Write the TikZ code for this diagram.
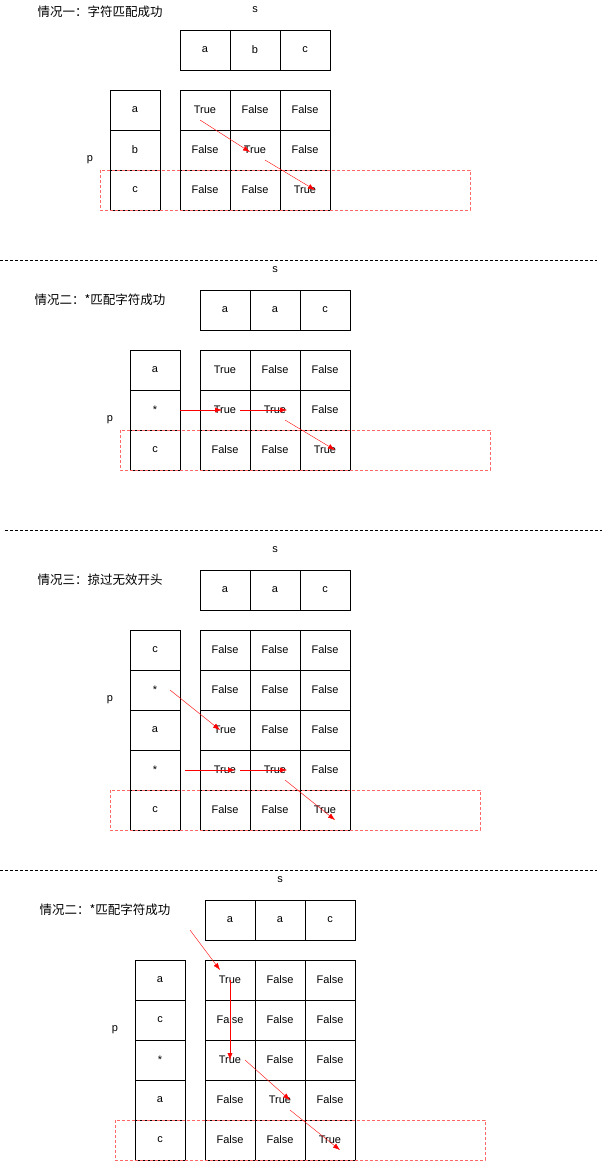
\documentclass[tikz,border=0pt]{standalone}
\usepackage{fontspec}
\setmainfont{Liberation Sans}
\newfontfamily\cjk{Noto Sans CJK SC}
\usetikzlibrary{calc,arrows.meta}
\begin{document}
\begin{tikzpicture}[x=1pt,y=-1pt,
        every node/.style={font=\fontsize{11}{13}\selectfont},
        cell/.style={rectangle, draw, inner sep=0pt, minimum width=50pt, minimum height=40pt},
        title/.style={font=\fontsize{12.5}{15}\selectfont\cjk},
        zone/.style={draw=red!60, dashed, dash pattern=on 3pt off 2pt},
        sep/.style={dashed, dash pattern=on 3pt off 2pt},
        hop/.style={-{Latex[length=7pt,width=5pt]}, red}
        ]
        \useasboundingbox (0,0) rectangle (607,1161);
        % Tablas: sección / origen x / origen y / letras de p / filas
        \foreach \k/\x/\y/\plist/\rows in {
            1/180/30/{a,b,c}/{{True,False,False},{False,True,False},{False,False,True}},
            2/200/290/{a,*,c}/{{True,False,False},{True,True,False},{False,False,True}},
            3/200/570/{c,*,a,*,c}/{{False,False,False},{False,False,False},{True,False,False},{True,True,False},{False,False,True}},
            4/205/900/{a,c,*,a,c}/{{True,False,False},{False,False,False},{True,False,False},{False,True,False},{False,False,True}}} {
            % fila s
            \foreach \c [count=\j] in {a,b,c} {
                \ifnum\k>1 \def\c{\ifcase\j\or a\or a\or c\fi}\fi
                \node[cell] (s\k-\j) at (\x+50*\j-25,\y+20) {\c};
            }
            % columna p
            \foreach \c [count=\i] in \plist
                \node[cell] (p\k-\i) at (\x-45,\y+40+40*\i) {\c};
            % tabla dp
            \foreach \r [count=\i] in \rows
                \foreach \v [count=\j] in \r
                    \node[cell] (g\k-\i-\j) at (\x+50*\j-25,\y+40+40*\i) {\v};
        }
        % Títulos
        \node[title] (t1) at (100,12) {情况一：字符匹配成功};
        \node[title] (t2) at (100,300) {情况二：*匹配字符成功};
        \node[title] (t3) at (100,580) {情况三：掠过无效开头};
        \node[title] (t4) at (105,910) {情况二：*匹配字符成功};
        \node (ls1) at (255,10) {s};
        \node (ls2) at (275,270) {s};
        \node (ls3) at (275,550) {s};
        \node (ls4) at (280,880) {s};
        \node (lp1) at (90,160) {p};
        \node (lp2) at (110,420) {p};
        \node (lp3) at (110,700) {p};
        \node (lp4) at (115,1030) {p};
        % Zonas y separadores
        \draw[zone] (100,170) rectangle (470,210);
        \draw[zone] (120,430) rectangle (490,470);
        \draw[zone] (110,790) rectangle (480,830);
        \draw[zone] (115,1120) rectangle (485,1160);
        \draw[sep] (0,260) -- (597,260);
        \draw[sep] (5,530) -- (602,530);
        \draw[sep] (0,870) -- (597,870);
        % Flechas
        \draw[hop] ($(g1-1-1)+(-5,10)$) -- ($(g1-2-2)+(-5,2)$);
        \draw[hop] ($(g1-2-2)+(10,10)$) -- ($(g1-3-3)+(10,0)$);
        \draw[hop] (p2-2.east) -- ($(g2-2-1)+(-3,0)$);
        \draw[hop] ($(g2-2-1)+(15,0)$) -- ($(g2-2-2)+(12,0)$);
        \draw[hop] ($(g2-2-2)+(10,10)$) -- ($(g2-3-3)+(10,0)$);
        \draw[hop] ($(p3-2)+(15,0)$) -- ($(g3-3-1)+(-5,0)$);
        \draw[hop] ($(p3-4)+(30,0)$) -- ($(g3-4-1)+(10,0)$);
        \draw[hop] ($(g3-4-1)+(15,0)$) -- ($(g3-4-2)+(12,0)$);
        \draw[hop] ($(g3-4-2)+(10,10)$) -- ($(g3-5-3)+(10,10)$);
        \draw[hop] ($(t4)+(85,20)$) -- ($(g4-1-1)+(-10,-10)$);
        \draw[hop] ($(g4-1-1)+(0,0)$) -- ($(g4-3-1)+(0,0)$);
        \draw[hop] ($(g4-3-1)+(15,0)$) -- ($(g4-4-2)+(10,0)$);
        \draw[hop] ($(g4-4-2)+(10,10)$) -- ($(g4-5-3)+(10,10)$);
\end{tikzpicture}
\end{document}
